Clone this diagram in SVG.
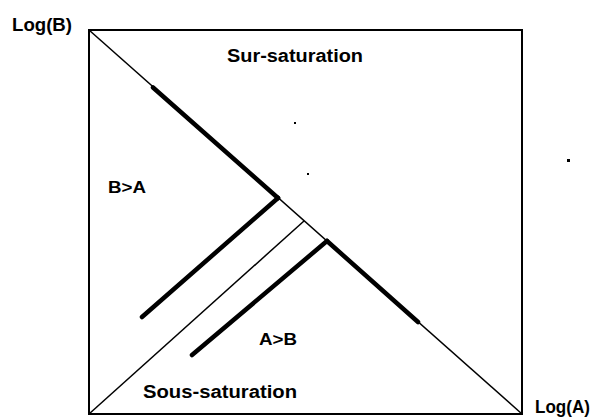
<svg xmlns="http://www.w3.org/2000/svg" width="597" height="418" viewBox="0 0 597 418">
<style>
.t{font-family:"Liberation Sans",Arial,sans-serif;font-weight:bold;fill:#000}
.thin{stroke:#000;stroke-width:1.5;fill:none}
.thick{stroke:#000;stroke-width:4.5;fill:none;stroke-linecap:round}
</style>
<rect width="597" height="418" fill="#fff"/>
<g id="frame">
<rect x="89" y="30" width="433" height="384" fill="none" stroke="#000" stroke-width="2"/>
</g>
<g id="lines">
<line class="thin" x1="89" y1="30" x2="522" y2="414"/>
<line class="thin" x1="89" y1="414" x2="304" y2="221"/>
<line class="thick" x1="153" y1="87.5" x2="278" y2="198"/>
<line class="thick" x1="327" y1="241" x2="418" y2="322"/>
<line class="thick" x1="142" y1="317" x2="278" y2="198"/>
<line class="thick" x1="192" y1="355" x2="327" y2="241"/>
</g>
<g id="dots" fill="#000">
<rect x="294" y="122" width="2" height="2"/>
<rect x="307" y="173" width="2" height="2"/>
<rect x="567" y="159" width="3" height="3"/>
</g>
<g id="labels">
<text class="t" x="12" y="31" font-size="18" textLength="60" lengthAdjust="spacingAndGlyphs">Log(B)</text>
<text class="t" x="535" y="413" font-size="18" textLength="55" lengthAdjust="spacingAndGlyphs">Log(A)</text>
<text class="t" x="227" y="62" font-size="18" textLength="136" lengthAdjust="spacingAndGlyphs">Sur-saturation</text>
<text class="t" x="108" y="193" font-size="17" textLength="38" lengthAdjust="spacingAndGlyphs">B&gt;A</text>
<text class="t" x="259" y="345" font-size="17" textLength="38" lengthAdjust="spacingAndGlyphs">A&gt;B</text>
<text class="t" x="143" y="398" font-size="18" textLength="154" lengthAdjust="spacingAndGlyphs">Sous-saturation</text>
</g>
</svg>
